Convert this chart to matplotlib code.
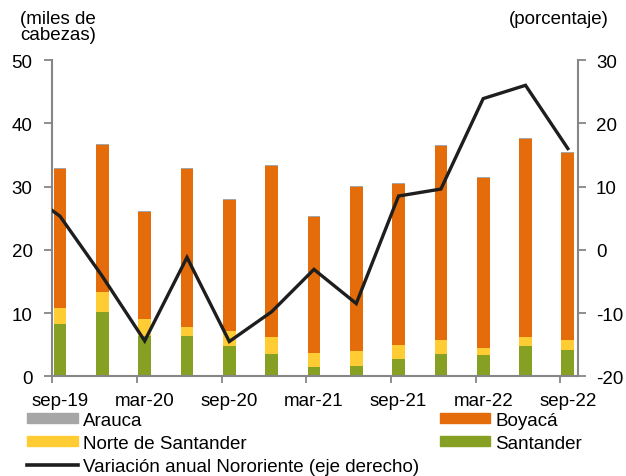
import numpy as np
import matplotlib
matplotlib.use("Agg")
import matplotlib.pyplot as plt
from matplotlib.patches import Patch
from matplotlib.lines import Line2D

plt.rcParams['font.family'] = ['Liberation Sans', 'DejaVu Sans']
plt.rcParams['axes.unicode_minus'] = False

periods = ['sep-19', 'dic-19', 'mar-20', 'jun-20', 'sep-20', 'dic-20', 'mar-21',
           'jun-21', 'sep-21', 'dic-21', 'mar-22', 'jun-22', 'sep-22']
tick_labels = ['sep-19', 'mar-20', 'sep-20', 'mar-21', 'sep-21', 'mar-22', 'sep-22']

santander = [8.2, 10.1, 6.4, 6.4, 4.8, 3.5, 1.5, 1.7, 2.7, 3.5, 3.3, 4.8, 4.2]
norte_santander = [2.6, 3.2, 2.6, 1.4, 2.4, 2.7, 2.2, 2.3, 2.3, 2.3, 1.1, 1.4, 1.6]
boyaca = [21.9, 23.3, 17.0, 24.9, 20.7, 27.0, 21.5, 25.9, 25.4, 30.6, 26.9, 31.3, 29.5]
arauca = [0.15] * 13

# annual variation (right axis); the first value (jun-19) lies before the visible range
variacion_prev = 10.2
variacion = [5.3, -4.2, -14.4, -1.2, -14.5, -9.8, -3.1, -8.5, 8.5, 9.6, 23.9, 26.0, 16.0]

C_ARA = '#A6A6A6'
C_BOY = '#E46C0A'
C_NOR = '#FFCC33'
C_SAN = '#86A023'
C_LINE = '#1E1E1E'
C_AX = '#868686'
FS = 13.5

fig = plt.figure(figsize=(6.26, 4.77), dpi=100)
ax = fig.add_axes([52/626, 1-377.3/477, (578-52)/626, (377.3-61)/477])

x = np.arange(len(periods))
w = 0.30
s = np.array(santander)
n = np.array(norte_santander)
b = np.array(boyaca)
a = np.array(arauca)
ax.bar(x, s, w, color=C_SAN, zorder=2)
ax.bar(x, n, w, bottom=s, color=C_NOR, zorder=2)
ax.bar(x, b, w, bottom=s+n, color=C_BOY, zorder=2)
ax.bar(x, a, w, bottom=s+n+b, color=C_ARA, zorder=2)

ax.set_xlim(-0.19, 12.24)
ax.set_ylim(0, 50)
ax.set_yticks(np.arange(0, 51, 10))

ax.set_xticks(np.arange(0, 13, 2) - 0.18)
ax.set_xticklabels([])
ax.set_xticks(np.arange(0, 13, 2), minor=True)
ax.set_xticklabels(tick_labels, minor=True)
ax.tick_params(axis='x', which='major', length=5, width=1.3, color=C_AX, direction='out')
ax.tick_params(axis='x', which='minor', length=0, pad=11, labelsize=FS)
ax.tick_params(axis='y', length=6, width=1.3, color=C_AX, labelsize=FS, pad=8)

for sp in ['top', 'right']:
    ax.spines[sp].set_visible(False)
for sp in ['left', 'bottom']:
    ax.spines[sp].set_color(C_AX)
    ax.spines[sp].set_linewidth(1.5)

ax2 = ax.twinx()
ax2.set_ylim(-20, 30)
ax2.set_yticks(np.arange(-20, 31, 10))
ax2.plot(np.arange(-1, 13), [variacion_prev] + variacion, color=C_LINE, lw=2.4,
         solid_joinstyle='miter', zorder=3)
ax2.set_xlim(-0.19, 12.24)
ax2.tick_params(axis='y', length=6, width=1.3, color=C_AX, labelsize=FS, pad=7)
for sp in ['top', 'left', 'bottom']:
    ax2.spines[sp].set_visible(False)
ax2.spines['right'].set_color(C_AX)
ax2.spines['right'].set_linewidth(1.5)

fig.text(20/626, 1-11/477, '(miles de\ncabezas)', ha='left', va='top', fontsize=FS,
         linespacing=0.95)
fig.text(609/626, 1-11/477, '(porcentaje)', ha='right', va='top', fontsize=FS)

handles = [Patch(color=C_ARA), Patch(color=C_NOR),
           Line2D([], [], color=C_LINE, lw=2.6),
           Patch(color=C_BOY), Patch(color=C_SAN)]
labels = ['Arauca', 'Norte de Santander', 'Variación anual Nororiente (eje derecho)',
          'Boyacá', 'Santander']
fig.legend(handles, labels, ncol=2, loc='upper left', bbox_to_anchor=(27/626, 1-413/477),
           frameon=False, fontsize=FS, borderpad=0, borderaxespad=0,
           handlelength=2.7, handleheight=0.45, handletextpad=0.28,
           columnspacing=1.1, labelspacing=0.32)

fig.savefig('out.png', dpi=100)
